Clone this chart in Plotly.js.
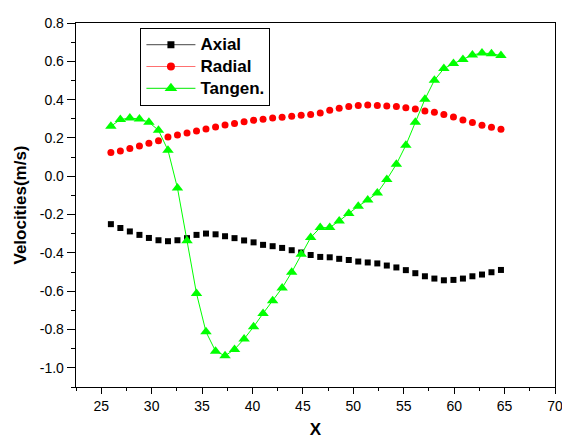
<!DOCTYPE html>
<html>
<head>
<meta charset="utf-8">
<script src="https://cdn.plot.ly/plotly-3.0.1.min.js"></script>
<style>
  html, body { margin: 0; padding: 0; background: #fff; }
  #chart { width: 562px; height: 439px; }
</style>
</head>
<body>
<div id="chart"></div>
<script>
// Measurement positions along X
const xPos = [25.96, 26.90, 27.84, 28.79, 29.73, 30.68, 31.62, 32.56, 33.51, 34.45,
              35.39, 36.34, 37.28, 38.22, 39.17, 40.11, 41.05, 42.00, 42.94, 43.89,
              44.83, 45.77, 46.72, 47.66, 48.60, 49.55, 50.49, 51.43, 52.38, 53.32,
              54.27, 55.21, 56.15, 57.10, 58.04, 58.98, 59.93, 60.87, 61.81, 62.76,
              63.70, 64.64];

// Velocity components (m/s)
const axial = [-0.250, -0.270, -0.288, -0.306, -0.322, -0.334, -0.339, -0.334, -0.323, -0.306,
               -0.299, -0.303, -0.313, -0.323, -0.335, -0.345, -0.358, -0.365, -0.374, -0.386,
               -0.398, -0.411, -0.421, -0.423, -0.431, -0.437, -0.445, -0.450, -0.455, -0.466,
               -0.476, -0.490, -0.506, -0.522, -0.534, -0.543, -0.541, -0.534, -0.522, -0.513,
               -0.501, -0.489];

const radial = [0.124, 0.132, 0.145, 0.158, 0.172, 0.186, 0.205, 0.216, 0.226, 0.236,
                0.247, 0.257, 0.268, 0.276, 0.285, 0.292, 0.297, 0.304, 0.308, 0.313,
                0.318, 0.322, 0.330, 0.344, 0.355, 0.364, 0.369, 0.372, 0.370, 0.367,
                0.364, 0.358, 0.351, 0.341, 0.334, 0.323, 0.309, 0.294, 0.280, 0.266,
                0.256, 0.245];

const tangential = [0.261, 0.296, 0.304, 0.299, 0.282, 0.240, 0.136, -0.061, -0.337, -0.612,
                    -0.812, -0.913, -0.937, -0.904, -0.849, -0.786, -0.716, -0.650, -0.583, -0.501,
                    -0.407, -0.320, -0.268, -0.268, -0.233, -0.195, -0.156, -0.124, -0.087, -0.017,
                    0.063, 0.162, 0.282, 0.402, 0.501, 0.562, 0.588, 0.609, 0.633, 0.643,
                    0.640, 0.630];

const seriesNames = ['Axial', 'Radial', 'Tangen.'];

// Axis ticks
const yTickVals = [-1.0, -0.8, -0.6, -0.4, -0.2, 0.0, 0.2, 0.4, 0.6, 0.8];
const yTickText = ['-1.0', '-0.8', '-0.6', '-0.4', '-0.2', '0.0', '0.2', '0.4', '0.6', '0.8'];
const xTickVals = [25, 30, 35, 40, 45, 50, 55, 60, 65, 70];

const FONT = 'Liberation Sans, Arial, sans-serif';

// legend label: larger glyphs on a tighter row pitch
const legendLabel = s => '<span style="font-size:17px;font-weight:bold">' + s + '</span>';

const traces = [
  // plotted points
  { x: xPos, y: axial, mode: 'markers', showlegend: false, legendgroup: 'a',
    marker: { symbol: 'square', size: 6, color: '#000000' } },
  { x: xPos, y: radial, mode: 'markers', showlegend: false, legendgroup: 'r',
    marker: { symbol: 'circle', size: 7, color: '#ff0000' } },
  { x: xPos, y: tangential, mode: 'lines+markers', showlegend: false, legendgroup: 't',
    line: { color: '#00ff00', width: 1 },
    marker: { symbol: 'triangle-up', size: 10, color: '#00ff00' } },
  // legend entries (line + symbol)
  { x: [null], y: [null], name: legendLabel(seriesNames[0]), mode: 'lines+markers', legendgroup: 'a',
    line: { color: '#6a6a6a', width: 1.2 }, marker: { symbol: 'square', size: 7, color: '#000000' } },
  { x: [null], y: [null], name: legendLabel(seriesNames[1]), mode: 'lines+markers', legendgroup: 'r',
    line: { color: '#ff7070', width: 1.2 }, marker: { symbol: 'circle', size: 8, color: '#ff0000' } },
  { x: [null], y: [null], name: legendLabel(seriesNames[2]), mode: 'lines+markers', legendgroup: 't',
    line: { color: '#33ee33', width: 1.2 }, marker: { symbol: 'triangle-up', size: 11, color: '#00ff00' } }
];

const layout = {
  width: 562,
  height: 439,
  margin: { l: 76, r: 7, t: 23, b: 52 },
  paper_bgcolor: '#ffffff',
  plot_bgcolor: '#ffffff',
  font: { family: FONT, color: '#000000', size: 14 },
  showlegend: true,
  legend: {
    x: 0.1345, y: 0.987, xanchor: 'left', yanchor: 'top',
    bgcolor: '#ffffff', bordercolor: '#000000', borderwidth: 1,
    font: { family: FONT, size: 14.5, color: '#000000', weight: 'bold' },
    itemwidth: 49,
    tracegroupgap: 0
  },
  xaxis: {
    range: [22.5, 70],
    tickvals: xTickVals,
    ticklabeloverflow: 'allow',
    ticks: 'outside', ticklen: 6, tickwidth: 1, tickcolor: '#000',
    minor: { ticks: 'outside', dtick: 2.5, tick0: 22.5, ticklen: 3, tickwidth: 1, tickcolor: '#000', showgrid: false },
    showline: true, linecolor: '#000', linewidth: 1.3, mirror: true,
    showgrid: false, zeroline: false,
    tickfont: { family: FONT, size: 14 },
    title: { text: 'X', font: { family: FONT, size: 17, weight: 'bold' }, standoff: 14 }
  },
  yaxis: {
    range: [-1.1, 0.8],
    tickvals: yTickVals,
    ticktext: yTickText,
    ticks: 'outside', ticklen: 8, tickwidth: 1, tickcolor: '#000',
    minor: { ticks: 'outside', dtick: 0.1, tick0: 0, ticklen: 4, tickwidth: 1, tickcolor: '#000', showgrid: false },
    showline: true, linecolor: '#000', linewidth: 1.3, mirror: true,
    showgrid: false, zeroline: false,
    tickfont: { family: FONT, size: 14 },
    title: { text: 'Velocities(m/s)', font: { family: FONT, size: 17, weight: 'bold' }, standoff: 8 }
  }
};

Plotly.newPlot('chart', traces, layout, { displayModeBar: false, staticPlot: true });
</script>
</body>
</html>
